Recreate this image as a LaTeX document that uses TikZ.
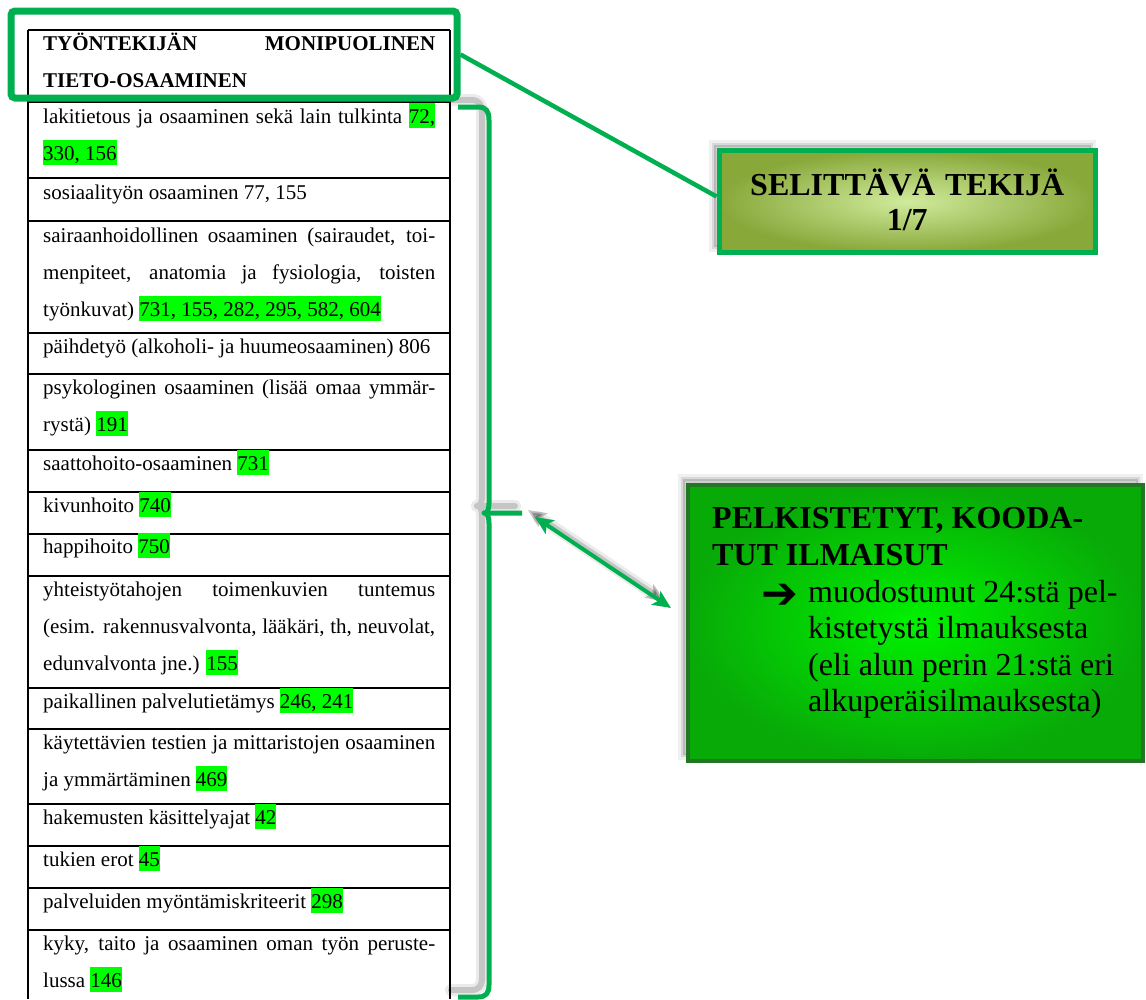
\documentclass[tikz,border=0pt]{standalone}
\usepackage{fontspec}
\setmainfont{Liberation Serif}
\newfontfamily\symfont{DejaVu Sans}
\usetikzlibrary{arrows.meta}
\definecolor{officegreen}{RGB}{0,176,80}
\definecolor{hlgreen}{RGB}{0,255,0}
\definecolor{selinner}{RGB}{208,235,156}
\definecolor{selouter}{RGB}{136,168,58}
\definecolor{pelinner}{RGB}{0,242,0}
\definecolor{pelouter}{RGB}{8,170,8}
\definecolor{pelborder}{RGB}{35,118,35}
% highlighted reference numbers
\newcommand\hl[1]{{\setlength{\fboxsep}{0pt}\colorbox{hlgreen}{\rule[-5pt]{0pt}{25pt}#1}}}
% a justified (full width) line inside a cell
\newcommand\jline[1]{{\spaceskip=0pt\xspaceskip=0pt\makebox[392pt][s]{#1}}}
\begin{document}
\begin{tikzpicture}[x=1pt,y=-1pt,
  natspace/.style={execute at begin node={\spaceskip=0pt\xspaceskip=0pt}},
  tableline/.style={line width=1.5pt, black},
  cell/.style={natspace, anchor=base west, inner sep=0pt, text width=430pt, align=left,
    font=\fontsize{21}{37}\selectfont},
  headcell/.style={cell, font=\fontsize{21}{37}\selectfont\bfseries},
  lineshadow/.style={
    preaction={draw=black, opacity=0.08, line width=12pt, line cap=round, line join=round,
      transform canvas={shift={(-7pt,7pt)}}},
    preaction={draw=black, opacity=0.16, line width=6pt, line cap=round, line join=round,
      transform canvas={shift={(-7pt,7pt)}}}},
  boxshadow/.style={
    preaction={fill=black, fill opacity=0.14, transform canvas={shift={(-5pt,6pt)}}},
    preaction={draw=black, draw opacity=0.06, line width=10pt, transform canvas={shift={(-5pt,6pt)}}},
    preaction={draw=black, draw opacity=0.10, line width=4pt, transform canvas={shift={(-5pt,6pt)}}}},
  selbox/.style={boxshadow, draw=officegreen, line width=5pt, inner sep=0pt,
    minimum width=376.5pt, minimum height=102pt, inner color=selinner, outer color=selouter},
  pelbox/.style={boxshadow, draw=pelborder, line width=4pt, inner sep=0pt,
    minimum width=455.5pt, minimum height=276pt, inner color=pelinner, outer color=pelouter},
  bracestroke/.style={lineshadow, draw=officegreen, line width=5pt, line join=round},
  dblarrow/.style={lineshadow, draw=officegreen, line width=4pt,
    {Stealth[length=18pt,width=16pt,inset=4pt]}-{Stealth[length=18pt,width=16pt,inset=4pt]}}
]
\useasboundingbox (0,0) rectangle (1146,999);

% ---- table grid ----
\draw[tableline] (28,30) -- (450,30);
\draw[tableline] (28,30) -- (28,999);
\draw[tableline] (450,30) -- (450,999);
\foreach \yy in {102,178,221,333,374,450,492,534,576,688,729,804,846,888,930}
  \draw[tableline] (28,\yy) -- (450,\yy);

% ---- table text ----
\node[headcell] (h0) at (43,50) {\jline{TYÖNTEKIJÄN MONIPUOLINEN}\\TIETO-OSAAMINEN};
\node[cell] (r1) at (43,123) {\jline{lakitietous ja osaaminen sekä lain tulkinta \hl{72,}}\\\hl{330, 156}};
\node[cell] (r2) at (43,199) {sosiaalityön osaaminen 77, 155};
\node[cell] (r3) at (43,242) {\jline{sairaanhoidollinen osaaminen (sairaudet, toi-}\\\jline{menpiteet, anatomia ja fysiologia, toisten}\\työnkuvat) \hl{731, 155, 282, 295, 582, 604}};
\node[cell] (r4) at (43,353) {päihdetyö (alkoholi- ja huumeosaaminen) 806};
\node[cell] (r5) at (43,394) {\jline{psykologinen osaaminen (lisää omaa ymmär-}\\rystä) \hl{191}};
\node[cell] (r6) at (43,470) {saattohoito-osaaminen \hl{731}};
\node[cell] (r7) at (43,512) {kivunhoito \hl{740}};
\node[cell] (r8) at (43,553) {happihoito \hl{750}};
\node[cell] (r9) at (43,596) {\jline{yhteistyötahojen toimenkuvien tuntemus}\\\jline{(esim. rakennusvalvonta, lääkäri, th, neuvolat,}\\edunvalvonta jne.) \hl{155}};
\node[cell] (r10) at (43,708) {paikallinen palvelutietämys \hl{246, 241}};
\node[cell] (r11) at (43,749) {\jline{käytettävien testien ja mittaristojen osaaminen}\\ja ymmärtäminen \hl{469}};
\node[cell] (r12) at (43,824) {hakemusten käsittelyajat \hl{42}};
\node[cell] (r13) at (43,866) {tukien erot \hl{45}};
\node[cell] (r14) at (43,908) {palveluiden myöntämiskriteerit \hl{298}};
\node[cell] (r15) at (43,950) {\jline{kyky, taito ja osaaminen oman työn peruste-}\\lussa \hl{146}};

% ---- brace along the rows ----
\coordinate (brtop) at (458,107);
\coordinate (brtip) at (522,513);
\coordinate (brbot) at (458,997);
\draw[bracestroke] (brtop) -- (478,107) .. controls (486,107) and (489,111) .. (489,120)
  -- (489,503) .. controls (489,510) and (487,513) .. (484,513) -- (brtip)
  (484,513) .. controls (487,513) and (489,516) .. (489,523)
  -- (489,985) .. controls (489,993) and (486,997) .. (478,997) -- (brbot);

% ---- explanatory factor box ----
\node[selbox] (sel) at (907.25,201.5) {};
\node[natspace, anchor=base, align=center, inner sep=0pt, text width=376pt,
  font=\fontsize{32}{35}\selectfont\bfseries]
  (seltext) at (907.25,195) {SELITTÄVÄ TEKIJÄ\\1/7};

% ---- reduced expressions box ----
\node[pelbox] (pelk) at (915.25,623) {};
\node[natspace, anchor=base west, align=left, inner sep=0pt, text width=420pt,
  font=\fontsize{32}{37}\selectfont\bfseries]
  (pelkhead) at (712,528) {PELKISTETYT, KOODA-\\TUT ILMAISUT};
\node[anchor=base west, inner sep=0pt, font=\symfont\fontsize{44}{50}\selectfont]
  (pelkarrow) at (761,608) {➔};
\node[natspace, anchor=base west, align=left, inner sep=0pt, text width=330pt,
  font=\fontsize{32}{36.5}\selectfont]
  (pelkbody) at (808,602) {muodostunut 24:stä pel-\\kistetystä ilmauksesta\\(eli alun perin 21:stä eri\\alkuperäisilmauksesta)};

% ---- two-way arrow between brace and box ----
\coordinate (arrA) at (535,517);
\coordinate (arrB) at (671,608);
\draw[dblarrow] (arrA) -- (arrB);

% ---- frame around the heading and its link ----
\node[draw=officegreen, line width=7pt, rounded corners=4pt, inner sep=0pt,
  minimum width=446pt, minimum height=87pt] (frame) at (234,54.5) {};
\draw[officegreen, line width=4.5pt] (frame.east) -- ([yshift=5pt]sel.west);
\end{tikzpicture}
\end{document}
